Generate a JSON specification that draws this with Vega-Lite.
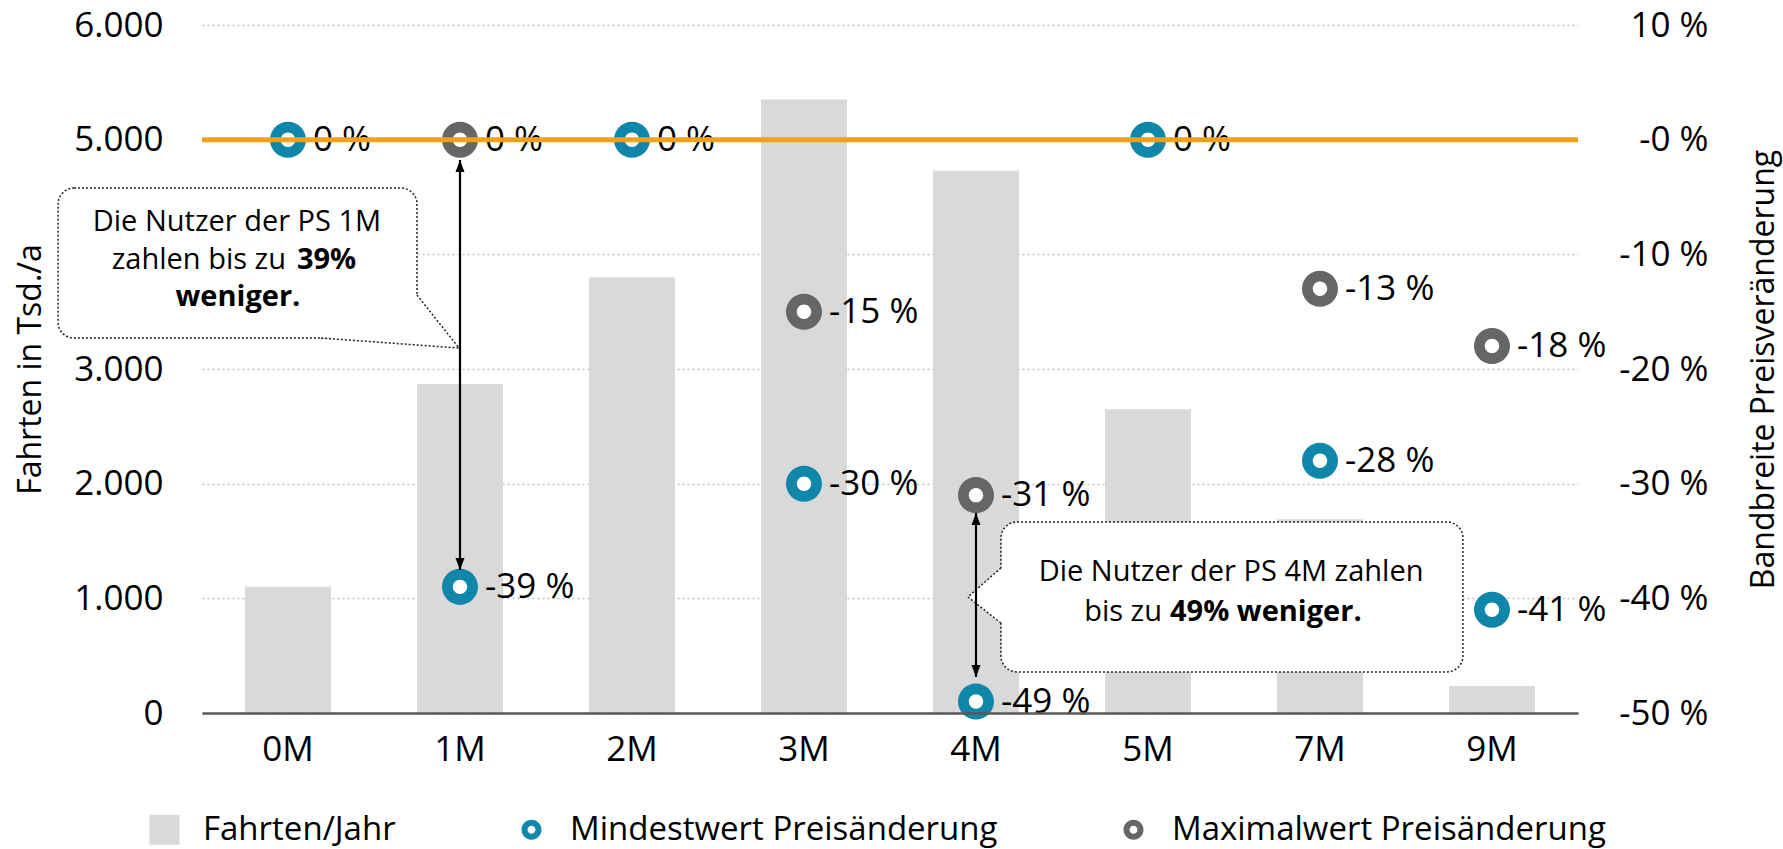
{
  "$schema": "https://vega.github.io/schema/vega-lite/v6.json",
  "width": 1376,
  "height": 688,
  "autosize": {"type": "none"},
  "padding": {"left": 202, "top": 25, "right": 205, "bottom": 136},
  "background": "white",
  "config": {
    "font": "Open Sans",
    "view": {"stroke": null},
    "axis": {"labelFont": "Open Sans", "titleFont": "Open Sans", "labelColor": "#000000", "titleColor": "#000000", "titleFontWeight": "normal"},
    "legend": {"labelFont": "Open Sans"}
  },
  "datasets": {
    "fahrten": [
      {"kat": "0M", "fahrten": 1100},
      {"kat": "1M", "fahrten": 2870},
      {"kat": "2M", "fahrten": 3800},
      {"kat": "3M", "fahrten": 5350},
      {"kat": "4M", "fahrten": 4730},
      {"kat": "5M", "fahrten": 2650},
      {"kat": "7M", "fahrten": 1690},
      {"kat": "9M", "fahrten": 235}
    ],
    "preis": [
      {"kat": "0M", "reihe": "Mindestwert Preisänderung", "pct": 0},
      {"kat": "1M", "reihe": "Mindestwert Preisänderung", "pct": -39},
      {"kat": "2M", "reihe": "Mindestwert Preisänderung", "pct": 0},
      {"kat": "3M", "reihe": "Mindestwert Preisänderung", "pct": -30},
      {"kat": "4M", "reihe": "Mindestwert Preisänderung", "pct": -49},
      {"kat": "5M", "reihe": "Mindestwert Preisänderung", "pct": 0},
      {"kat": "7M", "reihe": "Mindestwert Preisänderung", "pct": -28},
      {"kat": "9M", "reihe": "Mindestwert Preisänderung", "pct": -41},
      {"kat": "1M", "reihe": "Maximalwert Preisänderung", "pct": 0},
      {"kat": "3M", "reihe": "Maximalwert Preisänderung", "pct": -15},
      {"kat": "4M", "reihe": "Maximalwert Preisänderung", "pct": -31},
      {"kat": "7M", "reihe": "Maximalwert Preisänderung", "pct": -13},
      {"kat": "9M", "reihe": "Maximalwert Preisänderung", "pct": -18}
    ],
    "pfeile": [
      {"kat": "1M", "oben": 4823, "unten": 1247},
      {"kat": "4M", "oben": 1744, "unten": 314}
    ],
    "spitzen_hoch": [
      {"kat": "1M", "wert": 4823},
      {"kat": "4M", "wert": 1744}
    ],
    "spitzen_runter": [
      {"kat": "1M", "wert": 1247},
      {"kat": "4M", "wert": 314}
    ],
    "kaesten": [
      {"links": -0.837, "rechts": 1.25, "oben": 4578, "unten": 3270},
      {"links": 4.645, "rechts": 7.331, "oben": 1666, "unten": 358}
    ],
    "schwanzflaeche": [
      {"id": 1, "u": 0.692, "oben": 3270, "unten": 3270},
      {"id": 1, "u": 1.25, "oben": 3645, "unten": 3210},
      {"id": 1, "u": 1.494, "oben": 3183, "unten": 3183},
      {"id": 2, "u": 4.453, "oben": 1012, "unten": 1012},
      {"id": 2, "u": 4.645, "oben": 1265, "unten": 785},
      {"id": 2, "u": 4.665, "oben": 1265, "unten": 785}
    ],
    "schwanzlinie": [
      {"id": 1, "n": 1, "u": 1.25, "wert": 3645},
      {"id": 1, "n": 2, "u": 1.494, "wert": 3183},
      {"id": 1, "n": 3, "u": 0.692, "wert": 3270},
      {"id": 2, "n": 1, "u": 4.645, "wert": 1265},
      {"id": 2, "n": 2, "u": 4.453, "wert": 1012},
      {"id": 2, "n": 3, "u": 4.645, "wert": 785}
    ],
    "text_mitte": [
      {"u": 0.203, "wert": 4282, "text": "Die Nutzer der PS 1M"},
      {"u": 5.983, "wert": 1230, "text": "Die Nutzer der PS 4M zahlen"}
    ],
    "text_rechts": [
      {"u": 0.488, "wert": 3950, "text": "zahlen bis zu"},
      {"u": 5.581, "wert": 881, "text": "bis zu"}
    ],
    "text_fett_links": [
      {"u": 0.552, "wert": 3950, "text": "39%"},
      {"u": 5.628, "wert": 881, "text": "49% weniger."}
    ],
    "text_fett_mitte": [
      {"u": 0.209, "wert": 3628, "text": "weniger."}
    ]
  },
  "layer": [
    {
      "data": {"name": "fahrten"},
      "mark": {"type": "bar", "opacity": 1},
      "encoding": {
        "x": {"field": "kat", "type": "nominal", "sort": null,
          "scale": {"type": "band", "domain": ["0M", "1M", "2M", "3M", "4M", "5M", "7M", "9M"], "paddingInner": 0.5, "paddingOuter": 0.25},
          "axis": {"title": null, "labelAngle": 0, "labelFontSize": 35, "labelPadding": 19, "ticks": false, "grid": false, "domainColor": "#595959", "domainWidth": 2.5, "zindex": 1}},
        "y": {"field": "fahrten", "type": "quantitative",
          "scale": {"domain": [0, 6000], "nice": false, "zero": false},
          "axis": {"title": "Fahrten in Tsd./a", "values": [0, 1000, 2000, 3000, 4000, 5000, 6000],
            "labelExpr": "datum.value === 4000 ? '' : replace(format(datum.value, ','), ',', '.')",
            "labelFontSize": 35, "labelPadding": 39, "ticks": false, "domain": false,
            "grid": true, "gridColor": "#c4c4c4", "gridDash": [2, 3], "gridWidth": 1.5,
            "titleFontSize": 32, "titleAngle": 270, "titleX": -172, "titleY": 344, "titleBaseline": "middle", "titleAlign": "center"}},
        "color": {"datum": "Fahrten/Jahr", "type": "nominal",
          "scale": {"domain": ["Fahrten/Jahr", "Mindestwert Preisänderung", "Maximalwert Preisänderung"], "range": ["#d9d9d9", "#0f86aa", "#666666"]},
          "legend": {"title": null, "orient": "none", "legendX": -54, "legendY": 788, "direction": "horizontal",
            "labelFontSize": 33, "labelColor": "#000000", "labelLimit": 800, "symbolSize": 900, "symbolStrokeWidth": 0, "symbolOpacity": 1, "labelOffset": 22, "columnPadding": 119}}
      }
    },
    {
      "data": {"name": "preis"},
      "mark": {"type": "point", "shape": "circle", "filled": true, "color": "#ffffff", "size": 300, "opacity": 1, "strokeWidth": 0},
      "encoding": {
        "x": {"field": "kat", "type": "nominal", "sort": null,
          "scale": {"type": "band", "domain": ["0M", "1M", "2M", "3M", "4M", "5M", "7M", "9M"], "paddingInner": 0.5, "paddingOuter": 0.25},
          "axis": null},
        "y": {"field": "pct", "type": "quantitative", "scale": {"domain": [-50, 10], "nice": false, "zero": false}, "axis": null}
      }
    },
    {
      "data": {"name": "preis"},
      "mark": {"type": "point", "filled": true, "size": 2916, "opacity": 1, "strokeWidth": 0},
      "encoding": {
        "x": {"field": "kat", "type": "nominal", "sort": null,
          "scale": {"type": "band", "domain": ["0M", "1M", "2M", "3M", "4M", "5M", "7M", "9M"], "paddingInner": 0.5, "paddingOuter": 0.25},
          "axis": null},
        "y": {"field": "pct", "type": "quantitative",
          "scale": {"domain": [-50, 10], "nice": false, "zero": false},
          "axis": {"orient": "right", "title": "Bandbreite Preisveränderung", "values": [10, 0, -10, -20, -30, -40, -50],
            "labelExpr": "datum.value === 0 ? '-0 %' : datum.value + ' %'",
            "labelAlign": "right", "labelPadding": 130, "labelFontSize": 35, "ticks": false, "domain": false, "grid": false,
            "titleFontSize": 32, "titleAngle": 270, "titleX": 185, "titleY": 344, "titleBaseline": "middle", "titleAlign": "center"}},
        "color": {"field": "reihe", "type": "nominal",
          "scale": {"domain": ["Fahrten/Jahr", "Mindestwert Preisänderung", "Maximalwert Preisänderung"], "range": ["#d9d9d9", "#0f86aa", "#666666"]},
          "legend": {"title": null, "orient": "none", "legendX": -54, "legendY": 788, "direction": "horizontal",
            "labelFontSize": 33, "labelColor": "#000000", "labelLimit": 800, "symbolSize": 900, "symbolStrokeWidth": 0, "symbolOpacity": 1, "labelOffset": 22, "columnPadding": 119}},
        "shape": {"field": "reihe", "type": "nominal",
          "scale": {"domain": ["Fahrten/Jahr", "Mindestwert Preisänderung", "Maximalwert Preisänderung"],
            "range": [
              "M-1,-1L1,-1L1,1L-1,1Z",
              "M0,-0.667C0.368,-0.667 0.667,-0.368 0.667,0C0.667,0.368 0.368,0.667 0,0.667C-0.368,0.667 -0.667,0.368 -0.667,0C-0.667,-0.368 -0.368,-0.667 0,-0.667ZM0,-0.267C-0.1475,-0.267 -0.267,-0.1475 -0.267,0C-0.267,0.1475 -0.1475,0.267 0,0.267C0.1475,0.267 0.267,0.1475 0.267,0C0.267,-0.1475 0.1475,-0.267 0,-0.267Z",
              "M0,-0.667C0.368,-0.667 0.667,-0.368 0.667,0C0.667,0.368 0.368,0.667 0,0.667C-0.368,0.667 -0.667,0.368 -0.667,0C-0.667,-0.368 -0.368,-0.667 0,-0.667ZM0,-0.267C-0.1475,-0.267 -0.267,-0.1475 -0.267,0C-0.267,0.1475 -0.1475,0.267 0,0.267C0.1475,0.267 0.267,0.1475 0.267,0C0.267,-0.1475 0.1475,-0.267 0,-0.267Z"
            ]},
          "legend": {"title": null, "orient": "none", "legendX": -54, "legendY": 788, "direction": "horizontal",
            "labelFontSize": 33, "labelColor": "#000000", "labelLimit": 800, "symbolSize": 900, "symbolStrokeWidth": 0, "symbolOpacity": 1, "labelOffset": 22, "columnPadding": 119}}
      }
    },
    {
      "data": {"name": "preis"},
      "mark": {"type": "text", "align": "left", "baseline": "middle", "dx": 25, "fontSize": 35, "color": "#000000", "text": {"expr": "datum.pct + ' %'"}},
      "encoding": {
        "x": {"field": "kat", "type": "nominal", "sort": null,
          "scale": {"type": "band", "domain": ["0M", "1M", "2M", "3M", "4M", "5M", "7M", "9M"], "paddingInner": 0.5, "paddingOuter": 0.25},
          "axis": null},
        "y": {"field": "pct", "type": "quantitative", "scale": {"domain": [-50, 10], "nice": false, "zero": false}, "axis": null}
      }
    },
    {
      "data": {"values": [{"wert": 0}]},
      "mark": {"type": "rule", "color": "#f0a01c", "strokeWidth": 5},
      "encoding": {
        "y": {"field": "wert", "type": "quantitative", "scale": {"domain": [-50, 10], "nice": false, "zero": false}, "axis": null}
      }
    },
    {
      "data": {"name": "kaesten"},
      "mark": {"type": "rect", "fill": "#ffffff", "stroke": "#222222", "strokeWidth": 1.5, "strokeDash": [2, 2], "cornerRadius": 16, "clip": false},
      "encoding": {
        "x": {"field": "links", "type": "quantitative", "scale": {"domain": [0, 8], "nice": false, "zero": false}, "axis": null},
        "x2": {"field": "rechts"},
        "y": {"field": "oben", "type": "quantitative", "scale": {"domain": [0, 6000], "nice": false, "zero": false}, "axis": null},
        "y2": {"field": "unten"}
      }
    },
    {
      "data": {"name": "schwanzflaeche"},
      "mark": {"type": "area", "fill": "#ffffff", "opacity": 1, "clip": false},
      "encoding": {
        "x": {"field": "u", "type": "quantitative", "scale": {"domain": [0, 8], "nice": false, "zero": false}, "axis": null},
        "y": {"field": "oben", "type": "quantitative", "scale": {"domain": [0, 6000], "nice": false, "zero": false}, "axis": null},
        "y2": {"field": "unten"},
        "detail": {"field": "id", "type": "nominal"}
      }
    },
    {
      "data": {"name": "schwanzlinie"},
      "mark": {"type": "line", "stroke": "#222222", "strokeWidth": 1.5, "strokeDash": [2, 2], "clip": false},
      "encoding": {
        "x": {"field": "u", "type": "quantitative", "scale": {"domain": [0, 8], "nice": false, "zero": false}, "axis": null},
        "y": {"field": "wert", "type": "quantitative", "scale": {"domain": [0, 6000], "nice": false, "zero": false}, "axis": null},
        "detail": {"field": "id", "type": "nominal"},
        "order": {"field": "n", "type": "quantitative"}
      }
    },
    {
      "data": {"name": "pfeile"},
      "mark": {"type": "rule", "color": "#000000", "strokeWidth": 2.2},
      "encoding": {
        "x": {"field": "kat", "type": "nominal", "sort": null,
          "scale": {"type": "band", "domain": ["0M", "1M", "2M", "3M", "4M", "5M", "7M", "9M"], "paddingInner": 0.5, "paddingOuter": 0.25},
          "axis": null},
        "y": {"field": "oben", "type": "quantitative", "scale": {"domain": [0, 6000], "nice": false, "zero": false}, "axis": null},
        "y2": {"field": "unten"}
      }
    },
    {
      "data": {"name": "spitzen_hoch"},
      "mark": {"type": "point", "filled": true, "color": "#000000", "size": 144, "opacity": 1, "strokeWidth": 0, "shape": "M0,0L-0.75,2L0.75,2Z"},
      "encoding": {
        "x": {"field": "kat", "type": "nominal", "sort": null,
          "scale": {"type": "band", "domain": ["0M", "1M", "2M", "3M", "4M", "5M", "7M", "9M"], "paddingInner": 0.5, "paddingOuter": 0.25},
          "axis": null},
        "y": {"field": "wert", "type": "quantitative", "scale": {"domain": [0, 6000], "nice": false, "zero": false}, "axis": null}
      }
    },
    {
      "data": {"name": "spitzen_runter"},
      "mark": {"type": "point", "filled": true, "color": "#000000", "size": 144, "opacity": 1, "strokeWidth": 0, "shape": "M0,0L-0.75,-2L0.75,-2Z"},
      "encoding": {
        "x": {"field": "kat", "type": "nominal", "sort": null,
          "scale": {"type": "band", "domain": ["0M", "1M", "2M", "3M", "4M", "5M", "7M", "9M"], "paddingInner": 0.5, "paddingOuter": 0.25},
          "axis": null},
        "y": {"field": "wert", "type": "quantitative", "scale": {"domain": [0, 6000], "nice": false, "zero": false}, "axis": null}
      }
    },
    {
      "data": {"name": "text_mitte"},
      "mark": {"type": "text", "align": "center", "baseline": "middle", "fontSize": 29, "color": "#000000"},
      "encoding": {
        "x": {"field": "u", "type": "quantitative", "scale": {"domain": [0, 8], "nice": false, "zero": false}, "axis": null},
        "y": {"field": "wert", "type": "quantitative", "scale": {"domain": [0, 6000], "nice": false, "zero": false}, "axis": null},
        "text": {"field": "text", "type": "nominal"}
      }
    },
    {
      "data": {"name": "text_rechts"},
      "mark": {"type": "text", "align": "right", "baseline": "middle", "fontSize": 29, "color": "#000000"},
      "encoding": {
        "x": {"field": "u", "type": "quantitative", "scale": {"domain": [0, 8], "nice": false, "zero": false}, "axis": null},
        "y": {"field": "wert", "type": "quantitative", "scale": {"domain": [0, 6000], "nice": false, "zero": false}, "axis": null},
        "text": {"field": "text", "type": "nominal"}
      }
    },
    {
      "data": {"name": "text_fett_links"},
      "mark": {"type": "text", "align": "left", "baseline": "middle", "fontSize": 29, "fontWeight": "bold", "color": "#000000"},
      "encoding": {
        "x": {"field": "u", "type": "quantitative", "scale": {"domain": [0, 8], "nice": false, "zero": false}, "axis": null},
        "y": {"field": "wert", "type": "quantitative", "scale": {"domain": [0, 6000], "nice": false, "zero": false}, "axis": null},
        "text": {"field": "text", "type": "nominal"}
      }
    },
    {
      "data": {"name": "text_fett_mitte"},
      "mark": {"type": "text", "align": "center", "baseline": "middle", "fontSize": 29, "fontWeight": "bold", "color": "#000000"},
      "encoding": {
        "x": {"field": "u", "type": "quantitative", "scale": {"domain": [0, 8], "nice": false, "zero": false}, "axis": null},
        "y": {"field": "wert", "type": "quantitative", "scale": {"domain": [0, 6000], "nice": false, "zero": false}, "axis": null},
        "text": {"field": "text", "type": "nominal"}
      }
    }
  ],
  "resolve": {"scale": {"x": "independent", "y": "independent"}}
}
